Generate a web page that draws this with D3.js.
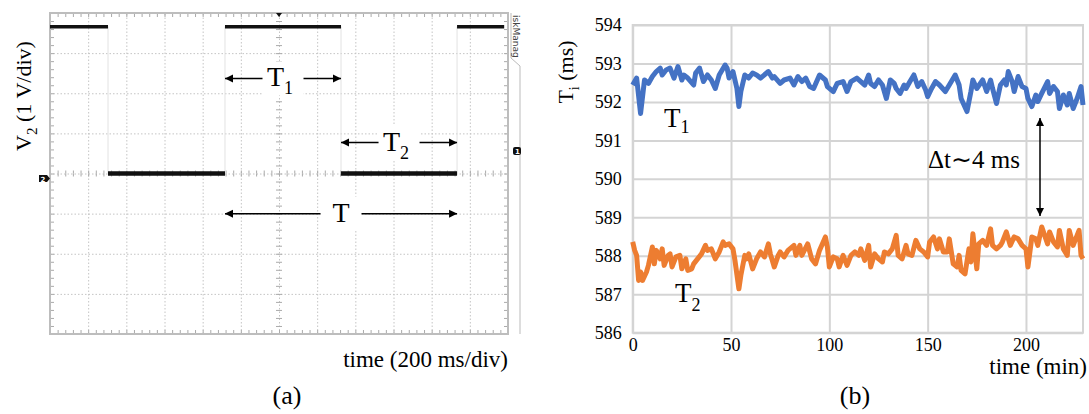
<!DOCTYPE html>
<html>
<head>
<meta charset="utf-8">
<script src="https://cdn.jsdelivr.net/npm/d3@7.9.0/dist/d3.min.js"></script>
<style>
  body { margin: 0; background: #fff; }
  svg { display: block; }
  text { font-family: "Liberation Serif", "Times New Roman", serif; fill: #000; }
</style>
</head>
<body>
<svg id="chart" width="1089" height="414"></svg>
<script>
// ---- (a) oscilloscope trace ----
// edge times in ms and the level (V) held from each edge
const scopeEdges = [0, 304, 917, 1525, 2133];
const scopeEnd = 2380;
const scopeLevels = [3.66, 0, 3.66, 0, 3.66];
const scopeDivX = d3.range(200, 2400, 200);
const scopeDivY = [-3, -2, -1, 1, 2, 3];
// period annotations: [label, subscript, start ms, end ms, level V]
const scopeSpans = [
  ['T', '1', 917, 1525, 2.37],
  ['T', '2', 1525, 2133, 0.77],
  ['T', '', 917, 2133, -1.0],
];

// ---- (b) periods over time (min, ms) ----
const seriesT1 = [
  [0, 592.44], [2, 592.62], [4, 591.70], [6, 592.57], [8, 592.48], [10, 592.66],
  [12, 592.79], [14, 592.88], [15, 592.70], [17, 592.83], [19, 592.88], [21, 592.62],
  [23, 592.92], [25, 592.57], [26, 592.70], [28, 592.62], [31, 592.44], [32, 592.75],
  [34, 592.88], [36, 592.53], [38, 592.70], [40, 592.57], [42, 592.35], [44, 592.70],
  [47, 592.96], [48, 592.88], [49, 592.62], [51, 592.79], [53, 592.35], [54, 591.88],
  [55, 592.27], [57, 592.70], [59, 592.62], [61, 592.75], [63, 592.70], [65, 592.62],
  [69, 592.79], [71, 592.62], [72, 592.66], [75, 592.48], [77, 592.57], [80, 592.62],
  [82, 592.44], [84, 592.66], [86, 592.53], [88, 592.62], [90, 592.40], [92, 592.35],
  [95, 592.70], [98, 592.57], [99, 592.40], [102, 592.27], [104, 592.48], [107, 592.53],
  [109, 592.27], [111, 592.53], [114, 592.62], [116, 592.53], [118, 592.44], [120, 592.70],
  [121, 592.48], [123, 592.40], [125, 592.57], [127, 592.44], [129, 592.09], [131, 592.57],
  [133, 592.48], [134, 592.35], [136, 592.22], [138, 592.44], [139, 592.35], [141, 592.53],
  [143, 592.70], [145, 592.40], [147, 592.53], [149, 592.31], [150, 592.14], [152, 592.35],
  [154, 592.53], [156, 592.44], [159, 592.27], [161, 592.44], [164, 592.70], [166, 592.44],
  [167, 592.09], [170, 591.75], [172, 592.27], [173, 592.57], [175, 592.35], [178, 592.57],
  [180, 592.27], [182, 592.57], [183, 592.35], [185, 591.96], [187, 592.44], [189, 592.57],
  [190, 592.44], [191, 592.79], [193, 592.53], [194, 592.27], [196, 592.66], [198, 592.40],
  [200, 592.35], [201, 592.09], [203, 591.88], [205, 592.18], [206, 592.01], [208, 592.22],
  [211, 592.53], [212, 592.22], [214, 592.40], [216, 592.27], [217, 591.83], [219, 592.18],
  [221, 591.92], [222, 592.22], [224, 591.83], [226, 592.09], [228, 592.40], [229, 591.92],
];

const seriesT2 = [
  [0, 588.36], [1, 588.14], [2, 588.01], [3, 587.36], [4, 587.58], [5, 587.36],
  [7, 587.58], [8, 587.75], [10, 588.23], [11, 587.79], [12, 588.14], [14, 587.92],
  [15, 588.18], [16, 587.75], [18, 588.01], [19, 588.05], [20, 587.71], [22, 587.97],
  [24, 588.01], [25, 587.66], [27, 587.92], [28, 587.62], [30, 587.66], [31, 587.79],
  [33, 587.92], [35, 588.05], [37, 588.27], [38, 588.14], [40, 588.18], [42, 587.92],
  [44, 588.10], [46, 588.36], [47, 588.27], [49, 588.31], [51, 588.18], [52, 587.88],
  [54, 587.14], [55, 587.49], [57, 588.01], [58, 587.92], [59, 588.05], [61, 587.66],
  [63, 587.92], [65, 588.10], [67, 587.97], [69, 588.31], [70, 588.05], [72, 587.71],
  [74, 588.01], [75, 588.10], [77, 587.97], [79, 588.14], [82, 588.27], [83, 588.01],
  [85, 588.27], [86, 588.01], [89, 588.31], [91, 587.92], [93, 587.79], [95, 588.14],
  [98, 588.49], [99, 588.23], [100, 587.71], [102, 587.97], [104, 587.92], [105, 587.71],
  [107, 588.01], [109, 587.75], [111, 588.01], [113, 588.10], [115, 588.01], [116, 588.18],
  [118, 587.88], [120, 588.27], [121, 587.71], [123, 588.05], [125, 587.92], [127, 587.84],
  [128, 588.10], [130, 588.05], [132, 588.18], [134, 588.53], [135, 588.01], [137, 587.92],
  [139, 588.27], [140, 588.05], [142, 588.01], [144, 588.40], [146, 588.18], [148, 588.10],
  [150, 587.97], [151, 588.36], [153, 588.49], [155, 588.18], [156, 588.44], [158, 588.10],
  [160, 588.10], [161, 588.44], [163, 587.79], [165, 587.71], [166, 588.01], [167, 587.62],
  [169, 587.53], [171, 588.18], [172, 587.84], [173, 588.57], [175, 587.66], [176, 588.31],
  [178, 588.40], [180, 588.27], [182, 588.70], [183, 588.27], [185, 588.18], [187, 588.27],
  [188, 588.36], [190, 588.62], [192, 588.27], [194, 588.49], [196, 588.44], [198, 588.27],
  [200, 588.18], [201, 587.71], [203, 588.49], [205, 588.44], [206, 588.27], [208, 588.75],
  [211, 588.31], [212, 588.62], [214, 588.36], [216, 588.23], [217, 588.66], [219, 588.18],
  [221, 588.01], [222, 588.66], [224, 588.27], [227, 588.66], [228, 588.01], [229, 587.92],
];
const yTicksB = d3.range(586, 595, 1);
const xTicksB = [0, 50, 100, 150, 200];

const svg = d3.select('#chart');

const defs = svg.append('defs');
defs.append('marker')
  .attr('id', 'head')
  .attr('viewBox', '0 -5 10 10')
  .attr('refX', 10).attr('refY', 0)
  .attr('markerUnits', 'userSpaceOnUse')
  .attr('markerWidth', 8).attr('markerHeight', 9)
  .attr('orient', 'auto-start-reverse')
  .append('path')
  .attr('d', 'M0,-5L10,0L0,5Z')
  .attr('fill', '#000');

function subText(g, x, y, main, sub, size, subSize, drop, anchor) {
  const t = g.append('text')
    .attr('x', x).attr('y', y)
    .attr('text-anchor', anchor || 'start')
    .style('font-size', size + 'px');
  t.append('tspan').text(main);
  if (sub) t.append('tspan').attr('dy', drop).style('font-size', subSize + 'px').text(sub);
  return t;
}

// ================= panel (a) =================
const sLeft = 50, sTop = 13, sW = 458, sH = 321;
const sx = d3.scaleLinear().domain([0, 2400]).range([sLeft, sLeft + sW]);
const sy = d3.scaleLinear().domain([-4, 4]).range([sTop + sH, sTop]);

const scope = svg.append('g');

// dotted division grid
scope.append('g')
  .attr('transform', `translate(0,${sTop + sH})`)
  .call(d3.axisBottom(sx).tickValues(scopeDivX).tickSize(-sH).tickFormat(''))
  .call(g => g.select('.domain').remove())
  .selectAll('line').attr('stroke', '#c4c4c4').attr('stroke-dasharray', '1.5,2');
scope.append('g')
  .attr('transform', `translate(${sLeft},0)`)
  .call(d3.axisLeft(sy).tickValues(scopeDivY.concat([0])).tickSize(-sW).tickFormat(''))
  .call(g => g.select('.domain').remove())
  .selectAll('line').attr('stroke', '#c4c4c4').attr('stroke-dasharray', '1.5,2');

// minor ticks on border and centre cross
const minorX = d3.range(40, 2400, 40);
const minorY = d3.range(-3.8, 4, 0.2);
function tickAxis(axis, tr) {
  scope.append('g')
    .attr('transform', tr)
    .call(axis.tickFormat(''))
    .call(g => g.select('.domain').remove())
    .selectAll('line').attr('stroke', '#aaa');
}
tickAxis(d3.axisTop(sx).tickValues(minorX).tickSize(-4), `translate(0,${sTop})`);
tickAxis(d3.axisBottom(sx).tickValues(minorX).tickSize(-4), `translate(0,${sTop + sH})`);
tickAxis(d3.axisLeft(sy).tickValues(minorY).tickSize(-4), `translate(${sLeft},0)`);
tickAxis(d3.axisRight(sy).tickValues(minorY).tickSize(-4), `translate(${sLeft + sW},0)`);
tickAxis(d3.axisTop(sx).tickValues(minorX).tickSize(3), `translate(0,${sy(0)})`);
tickAxis(d3.axisBottom(sx).tickValues(minorX).tickSize(3), `translate(0,${sy(0)})`);
tickAxis(d3.axisLeft(sy).tickValues(minorY).tickSize(3), `translate(${sx(1200)},0)`);
tickAxis(d3.axisRight(sy).tickValues(minorY).tickSize(3), `translate(${sx(1200)},0)`);

scope.append('rect')
  .attr('x', sLeft).attr('y', sTop).attr('width', sW).attr('height', sH)
  .attr('fill', 'none').attr('stroke', '#bdbdbd').attr('stroke-width', 2);

// side tab and frame at right
scope.append('path')
  .attr('d', `M${sLeft + sW + 3},${sTop} V58 L${sLeft + sW + 12},66 V${sTop + sH}`)
  .attr('fill', 'none').attr('stroke', '#bbb').attr('stroke-width', 1);
scope.append('text')
  .attr('transform', `translate(${sLeft + sW + 5},${sTop + 2}) rotate(90)`)
  .style('font-family', 'DejaVu Sans, sans-serif')
  .style('font-size', '9px').style('fill', '#444')
  .text('iskManag');

// trace
const segs = scopeEdges.map((t, i) => ({
  t0: t, t1: i + 1 < scopeEdges.length ? scopeEdges[i + 1] : scopeEnd, v: scopeLevels[i]
}));
scope.append('g').selectAll('line.edge')
  .data(scopeEdges.slice(1))
  .join('line')
  .attr('x1', d => sx(d)).attr('x2', d => sx(d))
  .attr('y1', sy(d3.max(scopeLevels))).attr('y2', sy(0))
  .attr('stroke', '#e2e2e2').attr('stroke-width', 1);
scope.append('g').selectAll('line.lvl')
  .data(segs)
  .join('line')
  .attr('x1', d => sx(d.t0)).attr('x2', d => sx(d.t1))
  .attr('y1', d => sy(d.v)).attr('y2', d => sy(d.v))
  .attr('stroke', '#111')
  .attr('stroke-width', d => d.v > 0 ? 3.5 : 4.5);

// channel / trigger markers
scope.append('rect').attr('x', 39).attr('y', 175).attr('width', 8).attr('height', 7).attr('fill', '#111');
scope.append('path').attr('d', 'M47,175 L50,178.5 L47,182 Z').attr('fill', '#111');
scope.append('text').attr('x', 43).attr('y', 181.5).attr('text-anchor', 'middle')
  .style('font-family', 'DejaVu Sans, sans-serif').style('font-size', '7px').style('fill', '#fff').style('font-weight', 'bold').text('2');
scope.append('rect').attr('x', 513).attr('y', 147).attr('width', 8).attr('height', 8).attr('rx', 2).attr('fill', '#111');
scope.append('text').attr('x', 517.5).attr('y', 154).attr('text-anchor', 'middle')
  .style('font-family', 'DejaVu Sans, sans-serif').style('font-size', '7px').style('fill', '#fff').style('font-weight', 'bold').text('1');
scope.append('path').attr('d', `M${sx(1200) - 3},${sTop} L${sx(1200) + 3},${sTop} L${sx(1200)},${sTop + 4} Z`).attr('fill', '#111');

// period annotations
scopeSpans.forEach(([lab, sub, a, b, v]) => {
  const x0 = sx(a), x1 = sx(b), y = sy(v), c = (x0 + x1) / 2, gap = 20.5;
  scope.append('rect').attr('x', c - gap).attr('y', y - 17).attr('width', gap * 2).attr('height', 34).attr('fill', '#fff');
  scope.append('line').attr('x1', c - gap).attr('x2', x0).attr('y1', y).attr('y2', y)
    .attr('stroke', '#000').attr('stroke-width', 1.5).attr('marker-end', 'url(#head)');
  scope.append('line').attr('x1', c + gap).attr('x2', x1).attr('y1', y).attr('y2', y)
    .attr('stroke', '#000').attr('stroke-width', 1.5).attr('marker-end', 'url(#head)');
  subText(scope, sub ? c - 3 : c, y + 8, lab, sub, 28, 18, 8, 'middle');
});

// titles (a)
const vLab = svg.append('text')
  .attr('transform', 'translate(31,96) rotate(-90)')
  .attr('text-anchor', 'middle')
  .style('font-size', '22px');
vLab.append('tspan').text('V');
vLab.append('tspan').attr('dy', 6).style('font-size', '15px').text('2');
vLab.append('tspan').attr('dy', -6).text(' (1 V/div)');

svg.append('text').attr('x', 508).attr('y', 367).attr('text-anchor', 'end')
  .style('font-size', '23px').text('time (200 ms/div)');
svg.append('text').attr('x', 287).attr('y', 404).attr('text-anchor', 'middle')
  .style('font-size', '26px').text('(a)');

// ================= panel (b) =================
const bLeft = 632.7, bRight = 1083, bTop = 25, bBottom = 332.7;
const x = d3.scaleLinear().domain([0, 229]).range([bLeft, bRight]);
const y = d3.scaleLinear().domain([586, 594]).range([bBottom, bTop]);

const plot = svg.append('g');

plot.append('g')
  .attr('transform', `translate(${bLeft},0)`)
  .call(d3.axisLeft(y).tickValues(yTicksB).tickSize(-(bRight - bLeft)).tickFormat(''))
  .call(g => g.select('.domain').remove())
  .selectAll('line').attr('stroke', '#d4d4d4').attr('stroke-width', 2);
plot.append('g')
  .attr('transform', `translate(0,${bBottom})`)
  .call(d3.axisBottom(x).tickValues(xTicksB).tickSize(-(bBottom - bTop)).tickFormat(''))
  .call(g => g.select('.domain').remove())
  .selectAll('line').attr('stroke', '#d4d4d4').attr('stroke-width', 2);
plot.append('rect')
  .attr('x', bLeft).attr('y', bTop).attr('width', bRight - bLeft).attr('height', bBottom - bTop)
  .attr('fill', 'none').attr('stroke', '#d4d4d4').attr('stroke-width', 2);

plot.append('g')
  .attr('transform', `translate(${bLeft},0)`)
  .call(d3.axisLeft(y).tickValues(yTicksB).tickSize(0).tickPadding(11).tickFormat(d3.format('d')))
  .call(g => g.select('.domain').remove())
  .selectAll('text').style('font-size', '18px').style('font-family', '"Liberation Serif", serif').attr('fill', '#111');
plot.append('g')
  .attr('transform', `translate(0,${bBottom})`)
  .call(d3.axisBottom(x).tickValues(xTicksB).tickSize(0).tickPadding(6).tickFormat(d3.format('d')))
  .call(g => g.select('.domain').remove())
  .selectAll('text').style('font-size', '18px').style('font-family', '"Liberation Serif", serif').attr('fill', '#111');

const line = d3.line().x(d => x(d[0])).y(d => y(d[1]));
plot.append('path').datum(seriesT2).attr('d', line)
  .attr('fill', 'none').attr('stroke', '#ED7D31').attr('stroke-width', 5).attr('stroke-linejoin', 'round');
plot.append('path').datum(seriesT1).attr('d', line)
  .attr('fill', 'none').attr('stroke', '#4472C4').attr('stroke-width', 5).attr('stroke-linejoin', 'round');

subText(plot, 664, 127, 'T', '1', 27, 18, 6);
subText(plot, 675, 302, 'T', '2', 27, 18, 9);

// delta-t annotation
plot.append('line').attr('x1', 1040).attr('x2', 1040).attr('y1', 168).attr('y2', 118)
  .attr('stroke', '#000').attr('stroke-width', 1.5).attr('marker-end', 'url(#head)');
plot.append('line').attr('x1', 1040).attr('x2', 1040).attr('y1', 168).attr('y2', 216)
  .attr('stroke', '#000').attr('stroke-width', 1.5).attr('marker-end', 'url(#head)');
plot.append('text').attr('x', 928).attr('y', 168).style('font-size', '25px').text('\u0394t\u223c4 ms');

const tLab = svg.append('text')
  .attr('transform', 'translate(573,72) rotate(-90)')
  .attr('text-anchor', 'middle')
  .style('font-size', '22px');
tLab.append('tspan').text('T');
tLab.append('tspan').attr('dy', 6).style('font-size', '14px').text('i');
tLab.append('tspan').attr('dy', -6).text('  (ms)');

svg.append('text').attr('x', 1087).attr('y', 374).attr('text-anchor', 'end')
  .style('font-size', '23px').text('time (min)');
svg.append('text').attr('x', 855).attr('y', 404).attr('text-anchor', 'middle')
  .style('font-size', '26px').text('(b)');
</script>
</body>
</html>
